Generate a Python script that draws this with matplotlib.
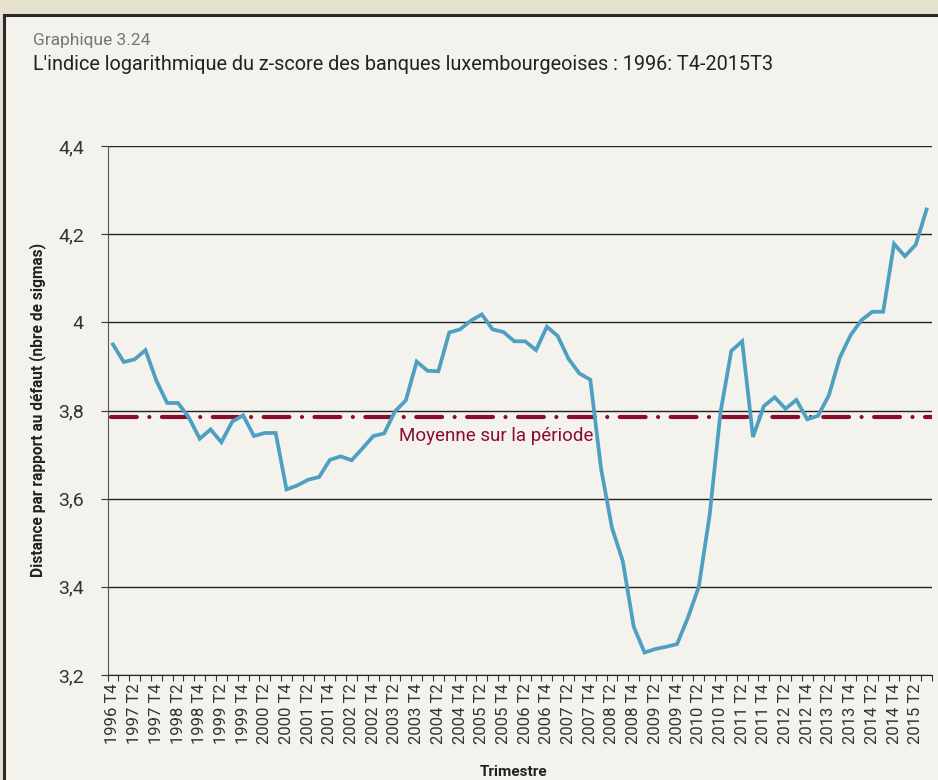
import numpy as np
import matplotlib
matplotlib.use("Agg")
from matplotlib import pyplot as plt
from matplotlib.patches import Rectangle

plt.rcParams["font.family"] = ["Roboto", "DejaVu Sans"]

# quarterly z-score index, 1996 T4 -> 2015 T3
zscore = [
    3.95, 3.91, 3.916, 3.937, 3.868, 3.817, 3.817, 3.784, 3.736, 3.757,
    3.728, 3.775, 3.789, 3.742, 3.749, 3.749, 3.621, 3.630, 3.643, 3.649,
    3.688, 3.696, 3.687, 3.714, 3.742, 3.748, 3.798, 3.823, 3.911, 3.890,
    3.889, 3.977, 3.984, 4.004, 4.018, 3.984, 3.978, 3.957, 3.957, 3.937,
    3.990, 3.969, 3.917, 3.884, 3.870, 3.667, 3.534, 3.458, 3.310, 3.251,
    3.259, 3.264, 3.270, 3.330, 3.400, 3.562, 3.795, 3.935, 3.957, 3.740,
    3.810, 3.830, 3.804, 3.824, 3.780, 3.788, 3.835, 3.920, 3.971, 4.005,
    4.024, 4.024, 4.178, 4.150, 4.176, 4.256,
]
mean_value = 3.785

quarters = []
for year in range(1996, 2016):
    for q in range(1, 5):
        quarters.append(f"{year} T{q}")
quarters = quarters[3:3 + len(zscore)]  # 1996 T4 .. 2015 T3

y_ticks = [3.2, 3.4, 3.6, 3.8, 4.0, 4.2, 4.4]
y_labels = ["3,2", "3,4", "3,6", "3,8", "4", "4,2", "4,4"]

BG_OUT = "#e6e0cf"
BG_PANEL = "#f3f2ec"
LINE_BLUE = "#4f9fc3"
MEAN_RED = "#8c0c30"

W, H = 938, 780
fig = plt.figure(figsize=(W / 100, H / 100), dpi=100)
fig.patch.set_facecolor(BG_OUT)

# framed panel, kept behind the axes
fig.patches.append(Rectangle((4 / W, -0.01), 1.0, 1 - 15 / H + 0.01, transform=fig.transFigure,
                             facecolor=BG_PANEL, edgecolor="#2a2a2a", linewidth=2.2, zorder=-5))

ax = fig.add_axes([107.5 / W, 1 - 675 / H, (932 - 107.5) / W, 529 / H])
ax.set_zorder(2)
ax.set_facecolor(BG_PANEL)

x = np.arange(len(zscore))
ax.plot(x, zscore, color=LINE_BLUE, linewidth=2.7, solid_joinstyle="miter", zorder=3)

ax.plot([-0.2, len(zscore) - 0.5], [mean_value, mean_value], color=MEAN_RED, linewidth=3.0,
        dashes=(6.2, 3.0, 0.01, 3.0), dash_capstyle="round", zorder=2)
ax.text(26.4, 3.742, "Moyenne sur la période", color=MEAN_RED, fontsize=13.5, va="center", ha="left")

ax.set_xlim(-0.5, len(zscore) - 0.5)
ax.set_ylim(3.2, 4.4)
ax.set_yticks(y_ticks)
ax.set_yticklabels(y_labels, fontsize=14, color="#333333")
for yv in y_ticks:
    ax.axhline(yv, color="#222222", linewidth=1.0, zorder=1)

ax.set_xticks(x[::2])
ax.set_xticklabels(quarters[::2], rotation=90, fontsize=12, color="#333333")
ax.set_xticks(np.arange(-0.5, len(zscore), 1), minor=True)
ax.tick_params(axis="x", which="major", length=0, pad=6)
ax.tick_params(axis="x", which="minor", length=4, color="#333333", width=0.8)
ax.tick_params(axis="y", length=5, color="#333333", width=0.8, pad=12)

for side in ["top", "right"]:
    ax.spines[side].set_visible(False)
ax.spines["left"].set_color("#555555")
ax.spines["bottom"].set_color("#222222")

fig.text(38 / W, 1 - 410 / H, "Distance par rapport au défaut (nbre de sigmas)", rotation=90,
         ha="center", va="center", fontsize=11.2, fontweight="bold", color="#222222")
fig.text(514 / W, 1 - 772 / H, "Trimestre", ha="center", va="center", fontsize=11,
         fontweight="bold", color="#222222")

fig.text(33 / W, 1 - 40 / H, "Graphique 3.24", ha="left", va="center", fontsize=12.5, color="#777777")
fig.text(33 / W, 1 - 64 / H,
         "L'indice logarithmique du z-score des banques luxembourgeoises : 1996: T4-2015T3",
         ha="left", va="center", fontsize=14.3, color="#222222")

fig.savefig("out.png", dpi=100, facecolor=fig.get_facecolor())
